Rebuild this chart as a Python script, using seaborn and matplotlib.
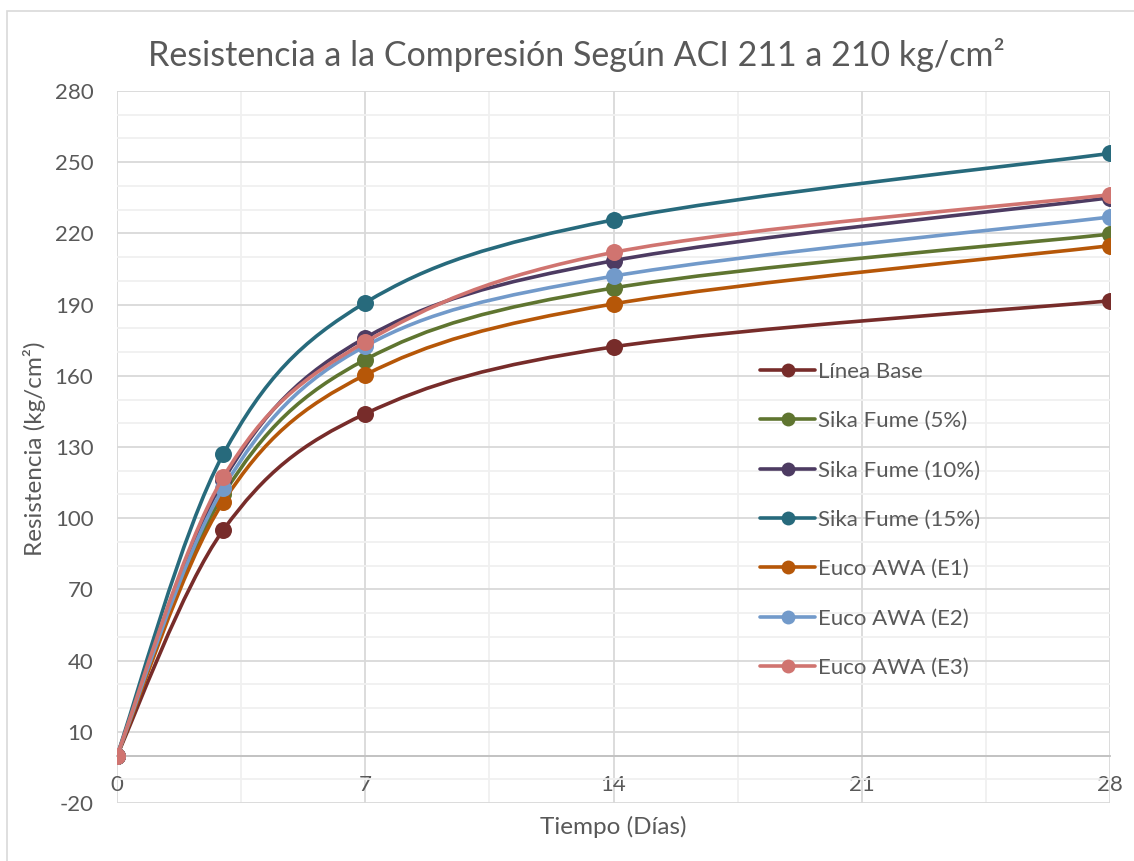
import numpy as np
import pandas as pd
import matplotlib
matplotlib.use("Agg")
import matplotlib.pyplot as plt
from matplotlib.path import Path
from matplotlib.patches import PathPatch, Rectangle
from matplotlib.lines import Line2D
import seaborn as sns

# Compressive strength (kg/cm2) by curing age (days)
dias = [0, 3, 7, 14, 28]
linea_base = [0, 95.1, 144.0, 172.2, 191.6]
sika_5 = [0, 110.0, 166.8, 197.0, 219.7]
sika_10 = [0, 116.0, 176.0, 208.5, 235.0]
sika_15 = [0, 127.1, 190.8, 225.7, 253.7]
euco_e1 = [0, 107.0, 160.4, 190.3, 214.8]
euco_e2 = [0, 112.8, 172.5, 202.0, 226.9]
euco_e3 = [0, 117.4, 174.2, 212.0, 236.3]

series_names = ["Línea Base", "Sika Fume (5%)", "Sika Fume (10%)", "Sika Fume (15%)",
                "Euco AWA (E1)", "Euco AWA (E2)", "Euco AWA (E3)"]
series_values = [linea_base, sika_5, sika_10, sika_15, euco_e1, euco_e2, euco_e3]
colors = ["#772C2A", "#5F7530", "#4D3B62", "#276A7C", "#B65708", "#729ACA", "#D07470"]

y_ticks = list(range(-20, 281, 30))
x_ticks = [0, 7, 14, 21, 28]

sns.set_theme(style="white")
plt.rcParams["font.family"] = ["Lato", "DejaVu Sans"]
plt.rcParams["axes.unicode_minus"] = False
text_color = "#595959"
fs = 16

fig = plt.figure(figsize=(11.34, 8.61), dpi=100)
ax = fig.add_axes([117 / 1134, 1 - 803 / 861, (1110 - 117) / 1134, (803 - 91) / 861])

# chart frame
fig.patches.append(Rectangle((7 / 1134, -0.1), 1.2, 1 - 11 / 861 + 0.1, transform=fig.transFigure,
                             fill=False, edgecolor="#D9D9D9", linewidth=1.2, zorder=0))


def smooth_path(xs, ys):
    """Cubic Bezier through the points, same construction as a smoothed office chart line."""
    pts = np.column_stack([xs, ys]).astype(float)
    n = len(pts)
    verts = [pts[0]]
    codes = [Path.MOVETO]
    for i in range(n - 1):
        p_prev = pts[i - 1] if i > 0 else pts[i]
        p_next2 = pts[i + 2] if i + 2 < n else pts[i + 1]
        c1 = pts[i] + (pts[i + 1] - p_prev) / 6.0
        c2 = pts[i + 1] - (p_next2 - pts[i]) / 6.0
        verts += [c1, c2, pts[i + 1]]
        codes += [Path.CURVE4] * 3
    return Path(verts, codes)


handles = []
for k, (name, vals, col) in enumerate(zip(series_names, series_values, colors)):
    z = 3 + 2 * k
    ax.add_patch(PathPatch(smooth_path(dias, vals), facecolor="none", edgecolor=col,
                           linewidth=2.6, capstyle="round", joinstyle="round", zorder=z))
    df = pd.DataFrame({"dias": dias, "resistencia": vals})
    sns.scatterplot(data=df, x="dias", y="resistencia", ax=ax, color=col, s=150,
                    edgecolor=col, linewidth=0, zorder=z + 1, legend=False)
    handles.append(Line2D([0], [0], color=col, linewidth=2.6, marker="o", markersize=10,
                          markeredgewidth=0, label=name))

ax.set_xlim(0, 28)
ax.set_ylim(-20, 280)
ax.set_xticks(x_ticks)
ax.set_xticks([3.5, 10.5, 17.5, 24.5], minor=True)
ax.set_yticks(y_ticks)
ax.set_yticks([v for v in range(-20, 281, 10) if v not in y_ticks], minor=True)
ax.grid(which="major", color="#D9D9D9", linewidth=1.3, zorder=0)
ax.grid(which="minor", color="#F0F0F0", linewidth=1.3, zorder=0)
ax.set_axisbelow(True)

for side in ["top", "right", "left"]:
    ax.spines[side].set_visible(False)
ax.spines["bottom"].set_position(("data", 0))
ax.spines["bottom"].set_color("#BFBFBF")
ax.spines["bottom"].set_linewidth(1.3)
ax.spines["bottom"].set_zorder(1)

ax.tick_params(axis="both", which="both", length=0, labelsize=fs, labelcolor=text_color)
ax.tick_params(axis="x", pad=14)
ax.tick_params(axis="y", pad=17)

ax.set_xlabel("")
ax.set_ylabel("")
fig.text((117 + 1110) / 2 / 1134, 1 - 827 / 861, "Tiempo (Días)", ha="center", va="center",
         fontsize=17.5, color=text_color)
fig.text(35 / 1134, 1 - 449 / 861, "Resistencia (kg/cm²)", ha="center", va="center",
         rotation=90, fontsize=17.5, color=text_color)
fig.text(576 / 1134, 1 - 55 / 861, "Resistencia a la Compresión Según ACI 211 a 210 kg/cm²",
         ha="center", va="center", fontsize=24.5, color=text_color)

leg = ax.legend(handles=handles, loc="upper left", bbox_to_anchor=((751 - 117) / 993, (803 - 353) / 712),
                frameon=False, fontsize=fs, labelspacing=1.32, handlelength=2.5, handletextpad=0.1,
                borderaxespad=0)
for t in leg.get_texts():
    t.set_color(text_color)

fig.savefig("out.png", dpi=100, facecolor="white")
